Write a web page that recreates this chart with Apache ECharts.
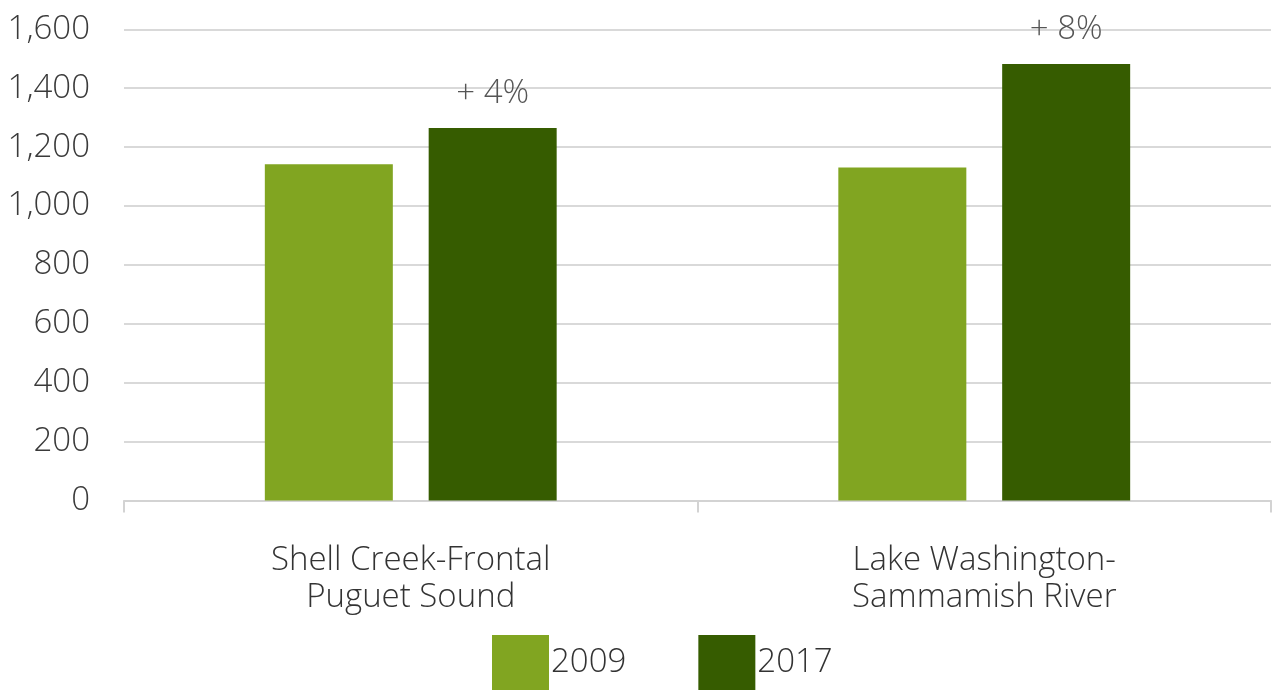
<!DOCTYPE html>
<html><head><meta charset="utf-8">
<script src="https://cdn.jsdelivr.net/npm/echarts@6/dist/echarts.min.js"></script>
<style>html,body{margin:0;padding:0;background:#fff}#c{width:1272px;height:690px}</style>
</head><body><div id="c"></div>
<script>
const categories = ['Shell Creek-Frontal\nPuguet Sound', 'Lake Washington-\nSammamish River'];
const seriesNames = ['2009', '2017'];
const values2009 = [1142, 1131];
const values2017 = [1265, 1482];
const changeLabels = ['+ 4%', '+ 8%'];

const FONT = '"Open Sans", "DejaVu Sans", sans-serif';
const chart = echarts.init(document.getElementById('c'), null, {renderer: 'canvas'});
chart.setOption({
  animation: false,
  backgroundColor: '#fff',
  grid: {left: 124, right: 1, top: 29.3, bottom: 189.5, containLabel: false},
  legend: {
    data: seriesNames, top: 630, left: 487, itemWidth: 57, itemHeight: 55, itemGap: 72,
    icon: 'rect',
    textStyle: {fontFamily: FONT, fontSize: 33, color: '#333', fontWeight: 300, padding: [6,0,0,-3]}
  },
  xAxis: {
    type: 'category', data: categories,
    axisLine: {lineStyle: {color: '#d3d3d3', width: 2}},
    axisTick: {show: true, length: 12, lineStyle: {color: '#d3d3d3', width: 2}},
    axisLabel: {fontFamily: FONT, fontSize: 33, color: '#333', fontWeight: 300, lineHeight: 37, margin: 42}
  },
  yAxis: {
    type: 'value', min: 0, max: 1600, interval: 200,
    axisLine: {show: false}, axisTick: {show: false},
    splitLine: {lineStyle: {color: '#d9d9d9', width: 2}},
    axisLabel: {fontFamily: FONT, fontSize: 33, color: '#3a3a3a', fontWeight: 300, margin: 34,
      formatter: v => v.toLocaleString('en-US')}
  },
  series: [
    {name: seriesNames[0], type: 'bar', data: values2009, barWidth: 128, barGap: '28%',
      itemStyle: {color: '#81a521'}},
    {name: seriesNames[1], type: 'bar', data: values2017, barWidth: 128,
      itemStyle: {color: '#365c00'},
      label: {show: true, position: 'top', distance: 18, fontFamily: FONT, fontSize: 33, color: '#555', fontWeight: 300,
        formatter: p => changeLabels[p.dataIndex]}}
  ]
});
</script></body></html>
